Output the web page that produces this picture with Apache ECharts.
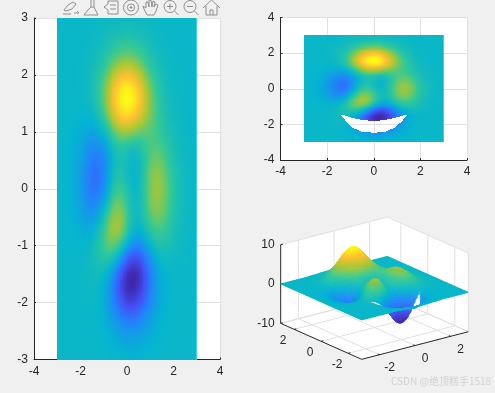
<!DOCTYPE html>
<html>
<head>
<meta charset="utf-8">
<style>
  html, body { margin: 0; padding: 0; background: #f0f0f0; }
  #chart { width: 495px; height: 393px; }
</style>
<script src="https://cdn.jsdelivr.net/npm/echarts@6/dist/echarts.min.js"></script>
</head>
<body>
<div id="chart"></div>
<script>
// grid positions of the surface samples
const xValues = [-3,-2.75,-2.5,-2.25,-2,-1.75,-1.5,-1.25,-1,-0.75,-0.5,-0.25,0,0.25,0.5,0.75,1,1.25,1.5,1.75,2,2.25,2.5,2.75,3];
const yValues = [3,2.75,2.5,2.25,2,1.75,1.5,1.25,1,0.75,0.5,0.25,0,-0.25,-0.5,-0.75,-1,-1.25,-1.5,-1.75,-2,-2.25,-2.5,-2.75,-3];
// surface height, one row per y value
const zRows = [
  [0,0,0,0,0,0,0,.1,.1,.2,.2,.3,.3,.3,.2,.2,.1,.1,0,0,0,0,0,0,0],
  [0,0,0,0,0,0,.1,.2,.3,.5,.6,.7,.8,.7,.6,.5,.3,.2,.1,0,0,0,0,0,0],
  [0,0,0,0,0,.1,.2,.4,.7,1.1,1.5,1.8,1.9,1.8,1.5,1.1,.7,.4,.2,.1,0,0,0,0,0],
  [0,0,0,0,.1,.2,.4,.7,1.3,2.1,2.8,3.4,3.6,3.4,2.8,2.1,1.3,.8,.4,.2,.1,0,0,0,0],
  [0,0,0,0,.1,.2,.6,1.2,2.1,3.3,4.6,5.5,5.9,5.5,4.6,3.4,2.2,1.3,.7,.3,.1,.1,0,0,0],
  [0,0,0,0,.1,.2,.7,1.4,2.7,4.3,6,7.2,7.7,7.2,6,4.5,3,1.8,1,.5,.2,.1,0,0,0],
  [0,0,0,0,0,.1,.5,1.3,2.6,4.4,6.2,7.5,8,7.5,6.3,4.7,3.3,2.1,1.2,.6,.3,.1,0,0,0],
  [0,0,-.1,-.1,-.2,-.2,-.1,.5,1.7,3.3,4.9,6.1,6.4,5.9,5,4,3,2.1,1.4,.8,.4,.2,.1,0,0],
  [0,0,-.1,-.3,-.5,-.7,-.9,-.6,.2,1.5,2.8,3.6,3.7,3.4,2.9,2.7,2.4,2.1,1.6,1,.6,.3,.1,0,0],
  [0,-.1,-.2,-.4,-.8,-1.4,-1.8,-1.8,-1.2,0,1,1.6,1.4,1.1,1.2,1.7,2.2,2.3,2,1.4,.8,.4,.2,.1,0],
  [0,-.1,-.2,-.6,-1.1,-1.8,-2.5,-2.6,-2,-.8,.4,.8,.5,.1,.4,1.3,2.4,2.8,2.6,1.8,1.1,.5,.2,.1,0],
  [0,-.1,-.3,-.7,-1.3,-2.2,-2.9,-3,-2.1,-.6,.7,1,.5,0,.3,1.5,2.8,3.4,3.1,2.2,1.3,.7,.3,.1,0],
  [0,-.1,-.3,-.7,-1.3,-2.1,-2.8,-2.7,-1.7,.1,1.5,1.8,1,.2,.4,1.6,2.9,3.6,3.3,2.4,1.4,.7,.3,.1,0],
  [0,-.1,-.3,-.6,-1.1,-1.8,-2.2,-1.8,-.6,1.2,2.6,2.6,1.6,.5,.5,1.5,2.8,3.4,3.1,2.3,1.3,.7,.3,.1,0],
  [0,-.1,-.2,-.4,-.8,-1.2,-1.2,-.6,.8,2.5,3.5,3.3,2,.7,.4,1.1,2.2,2.8,2.6,1.9,1.1,.6,.2,.1,0],
  [0,-.1,-.1,-.2,-.4,-.5,-.3,.5,1.8,3.1,3.6,3,1.4,0,-.4,.2,1.2,1.8,1.8,1.4,.8,.4,.2,.1,0],
  [0,0,-.1,-.1,-.1,0,.3,1,1.9,2.5,2.2,1,-.7,-2,-2.2,-1.4,-.3,.6,.9,.8,.5,.3,.1,0,0],
  [0,0,0,0,0,.2,.5,.8,1.1,.9,-.1,-1.8,-3.6,-4.6,-4.4,-3.2,-1.7,-.5,.1,.3,.2,.1,.1,0,0],
  [0,0,0,0,.1,.2,.3,.4,.1,-.7,-2.2,-4.1,-5.7,-6.3,-5.8,-4.3,-2.6,-1.3,-.4,-.1,0,0,0,0,0],
  [0,0,0,0,.1,.1,.2,0,-.5,-1.5,-3,-4.7,-6,-6.3,-5.6,-4.3,-2.7,-1.4,-.6,-.2,0,0,0,0,0],
  [0,0,0,0,0,.1,.1,-.1,-.6,-1.4,-2.6,-3.9,-4.8,-4.9,-4.3,-3.3,-2.1,-1.2,-.5,-.2,-.1,0,0,0,0],
  [0,0,0,0,0,0,0,-.1,-.4,-1,-1.7,-2.5,-3,-3.1,-2.7,-2,-1.3,-.7,-.3,-.1,-.1,0,0,0,0],
  [0,0,0,0,0,0,0,-.1,-.2,-.5,-.9,-1.3,-1.6,-1.6,-1.4,-1.1,-.7,-.4,-.2,-.1,0,0,0,0,0],
  [0,0,0,0,0,0,0,0,-.1,-.2,-.4,-.5,-.7,-.7,-.6,-.4,-.3,-.2,-.1,0,0,0,0,0,0],
  [0,0,0,0,0,0,0,0,0,-.1,-.1,-.2,-.2,-.3,-.2,-.2,-.1,-.1,0,0,0,0,0,0,0]
];
// outline of the cut-out crescent (NaN area of the surface)
const holeX = [-1.45,-1.2,-0.95,-0.5,0,0.5,0.95,1.2,1.45];
const holeTop = [-1.46,-1.55,-1.63,-1.75,-1.8,-1.75,-1.63,-1.55,-1.46];
const holeBottom = [-1.46,-1.82,-2.15,-2.4,-2.5,-2.4,-2.15,-1.82,-1.46];

const xTicks3d = [-2,0,2];
const yTicks3d = [-2,0,2];
const zTicks3d = [-10,0,10];

const zMin = -6.55, zMax = 8.1;
const parula = [
  [62,38,168],[68,78,246],[32,132,250],[4,180,208],
  [50,200,150],[171,199,50],[254,192,50],[250,252,18]
];
const textColor = "#262626";
const gridColor = "#e0e0e0";
const edgeColor = "#35d3e6";
const labelFont = '12px "Liberation Sans", Arial, sans-serif';

function colorOf(z) {
  const t = Math.max(0, Math.min(1, (z - zMin) / (zMax - zMin))) * (parula.length - 1);
  const k = Math.min(parula.length - 2, Math.floor(t));
  const f = t - k;
  const a = parula[k], b = parula[k + 1];
  return "rgb(" + Math.round(a[0] + (b[0] - a[0]) * f) + "," +
    Math.round(a[1] + (b[1] - a[1]) * f) + "," +
    Math.round(a[2] + (b[2] - a[2]) * f) + ")";
}

function inHole(x, y) {
  if (x <= holeX[0] || x >= holeX[holeX.length - 1]) return false;
  let k = 0;
  while (holeX[k + 1] < x) k++;
  const f = (x - holeX[k]) / (holeX[k + 1] - holeX[k]);
  const top = holeTop[k] + (holeTop[k + 1] - holeTop[k]) * f;
  const bottom = holeBottom[k] + (holeBottom[k + 1] - holeBottom[k]) * f;
  return y < top && y > bottom;
}

// smooth shading between samples, same idea as shading interp
function blend(p0, p1, p2, p3, f) {
  return p1 + 0.5 * f * (p2 - p0 + f * (2 * p0 - 5 * p1 + 4 * p2 - p3 + f * (3 * (p1 - p2) + p3 - p0)));
}
function sample(i, j) {
  const n = xValues.length - 1;
  return zRows[Math.max(0, Math.min(n, j))][Math.max(0, Math.min(n, i))];
}
function shadeZ(i, j, fx, fy) {
  const col = [];
  for (let r = -1; r <= 2; r++) {
    col.push(blend(sample(i - 1, j + r), sample(i, j + r), sample(i + 1, j + r), sample(i + 2, j + r), fx));
  }
  return blend(col[0], col[1], col[2], col[3], fy);
}

const cells = [];
for (let j = 0; j < yValues.length - 1; j++) {
  for (let i = 0; i < xValues.length - 1; i++) {
    cells.push([xValues[i], yValues[j], i, j]);
  }
}

function flatSurface(subX, subY, cutHole) {
  return function (params, api) {
    const i = api.value(2), j = api.value(3);
    const x0 = xValues[i], x1 = xValues[i + 1], y0 = yValues[j], y1 = yValues[j + 1];
    const children = [];
    for (let a = 0; a < subX; a++) {
      for (let b = 0; b < subY; b++) {
        const xa = x0 + (x1 - x0) * a / subX, xb = x0 + (x1 - x0) * (a + 1) / subX;
        const ya = y0 + (y1 - y0) * b / subY, yb = y0 + (y1 - y0) * (b + 1) / subY;
        if (cutHole && inHole((xa + xb) / 2, (ya + yb) / 2)) continue;
        const p = api.coord([xa, ya]), q = api.coord([xb, yb]);
        const left = Math.round(p[0]), topPx = Math.round(p[1]);
        const w = Math.round(q[0]) - left, h = Math.round(q[1]) - topPx;
        if (w <= 0 || h <= 0) continue;
        children.push({
          type: "rect",
          shape: { x: left, y: topPx, width: w, height: h },
          style: { fill: colorOf(shadeZ(i, j, (a + 0.5) / subX, (b + 0.5) / subY)) },
          silent: true
        });
      }
    }
    // the image edge at x max shows a lighter pixel column
    if (i === xValues.length - 2) {
      const p = api.coord([x1, y0]), q = api.coord([x1, y1]);
      children.push({
        type: "rect",
        shape: { x: Math.round(p[0]) - 1, y: Math.round(p[1]), width: 1, height: Math.round(q[1]) - Math.round(p[1]) },
        style: { fill: edgeColor },
        silent: true
      });
    }
    return { type: "group", children: children };
  };
}

// default matlab view: az -37.5, el 30
function project(x, y, z) {
  return [114.5 + (53.3 * x - 40.5 * y) / 3, 78.2 + (-13.8 * x - 18 * y - 11.8 * z) / 3];
}

function boxElements(params, api) {
  const pt = (x, y, z) => api.coord(project(x, y, z));
  const line = (a, b, color) => ({
    type: "line",
    shape: { x1: a[0], y1: a[1], x2: b[0], y2: b[1] },
    style: { stroke: color, lineWidth: 1 },
    silent: true
  });
  const label = (text, p, dx, dy, align) => ({
    type: "text",
    x: p[0] + dx, y: p[1] + dy,
    style: { text: text, fill: textColor, font: labelFont, align: align || "center", verticalAlign: "middle" },
    silent: true
  });
  const kids = [{
    type: "polygon",
    shape: { points: [pt(-3,3,10), pt(3,3,10), pt(3,-3,10), pt(3,-3,-10), pt(-3,-3,-10), pt(-3,3,-10)] },
    style: { fill: "#fff" },
    silent: true
  }];
  xTicks3d.forEach(function (x) {
    kids.push(line(pt(x,-3,-10), pt(x,3,-10), gridColor), line(pt(x,3,-10), pt(x,3,10), gridColor));
  });
  yTicks3d.forEach(function (y) {
    kids.push(line(pt(-3,y,-10), pt(3,y,-10), gridColor), line(pt(3,y,-10), pt(3,y,10), gridColor));
  });
  zTicks3d.forEach(function (z) {
    kids.push(line(pt(-3,3,z), pt(3,3,z), gridColor), line(pt(3,3,z), pt(3,-3,z), gridColor));
  });
  kids.push(line(pt(3,3,-10), pt(-3,3,-10), gridColor), line(pt(3,3,-10), pt(3,-3,-10), gridColor));
  kids.push(line(pt(3,-3,-10), pt(3,-3,10), gridColor), line(pt(-3,3,10), pt(-3,3,-10), textColor));
  kids.push(line(pt(-3,3,-10), pt(-3,-3,-10), textColor), line(pt(-3,-3,-10), pt(3,-3,-10), textColor));
  xTicks3d.forEach(function (x) {
    kids.push(line(pt(x,-3,-10), pt(x,-2.88,-10), textColor), label(String(x), pt(x,-3,-10), 10, 13));
  });
  yTicks3d.forEach(function (y) {
    kids.push(line(pt(-3,y,-10), pt(-2.88,y,-10), textColor), label(String(y), pt(-3,y,-10), -11, 11));
  });
  zTicks3d.forEach(function (z) {
    kids.push(line(pt(-3,3,z), pt(-2.88,3,z), textColor), label(String(z), pt(-3,3,z), -6, 0, "right"));
  });
  return { type: "group", children: kids };
}

function surface3d(params, api) {
  const i = api.value(2), j = api.value(3);
  const x0 = xValues[i], x1 = xValues[i + 1], y0 = yValues[j], y1 = yValues[j + 1];
  const sub = 5;
  const children = [];
  // far corner of a cell first, so nearer pieces paint over
  for (let a = sub - 1; a >= 0; a--) {
    for (let b = 0; b < sub; b++) {
      const xa = x0 + (x1 - x0) * a / sub, xb = x0 + (x1 - x0) * (a + 1) / sub;
      const ya = y0 + (y1 - y0) * b / sub, yb = y0 + (y1 - y0) * (b + 1) / sub;
      if (inHole((xa + xb) / 2, (ya + yb) / 2)) continue;
      const corners = [
        [xa, ya, shadeZ(i, j, a / sub, b / sub)],
        [xb, ya, shadeZ(i, j, (a + 1) / sub, b / sub)],
        [xb, yb, shadeZ(i, j, (a + 1) / sub, (b + 1) / sub)],
        [xa, yb, shadeZ(i, j, a / sub, (b + 1) / sub)]
      ];
      const color = colorOf(shadeZ(i, j, (a + 0.5) / sub, (b + 0.5) / sub));
      children.push({
        type: "polygon",
        shape: { points: corners.map((c) => api.coord(project(c[0], c[1], c[2]))) },
        style: { fill: color, stroke: color, lineWidth: 0.5 },
        silent: true
      });
    }
  }
  return { type: "group", children: children };
}

const cells3d = cells.slice().sort((m, n) => (13.8 * n[0] + 18 * n[1]) - (13.8 * m[0] + 18 * m[1]));

function flatAxis(grid, min, max, interval) {
  return {
    type: "value",
    gridIndex: grid,
    min: min,
    max: max,
    interval: interval,
    axisLine: { show: true, onZero: false, lineStyle: { color: textColor, width: 1 } },
    axisTick: { show: true, inside: true, length: 2, lineStyle: { color: textColor } },
    axisLabel: { color: textColor, fontFamily: "Liberation Sans", fontSize: 12, margin: 6,
      showMinLabel: true, showMaxLabel: true, hideOverlap: false,
      formatter: (v) => String(v) },
    splitLine: { show: true, lineStyle: { color: gridColor, width: 1 } }
  };
}

const hidden = { type: "value", show: false, gridIndex: 2, splitLine: { show: false } };

// toolbar glyphs, only decoration above the first axes
const iconStroke = { stroke: "#8e8e8e", fill: "none", lineWidth: 1 };
function poly(points) {
  return { type: "polyline", shape: { points: points }, style: iconStroke, silent: true };
}
function ring(cx, cy, r) {
  return { type: "circle", shape: { cx: cx, cy: cy, r: r }, style: iconStroke, silent: true };
}
const toolbar = [
  poly([[64,10],[68,5],[73,2],[76,4],[72,9],[66,11],[64,10]]), poly([[63,14],[71,14]]), poly([[74,13],[79,13],[77,11]]),
  poly([[94,0],[94,7]]), poly([[91,0],[91,7]]), poly([[91,7],[94,7],[98,15],[84,15],[87,11],[91,7]]),
  poly([[108,1],[118,1],[118,14],[108,14],[108,10],[104,7],[108,4],[108,1]]), poly([[110,5],[116,5]]), poly([[110,9],[116,9]]),
  ring(131,7.5,7.5), ring(131,7.5,3.6), poly([[129.5,7.5],[132.5,7.5]]), poly([[131,6],[131,9]]),
  poly([[147,15],[144,9],[143,6],[146,8],[146,2],[148,2],[149,7],[149,0],[151,0],[152,7],[153,1],[155,2],[154,7],[156,4],[158,5],[156,11],[154,15],[147,15]]),
  ring(170,6.5,6), poly([[174.5,11],[178.5,15]]), poly([[167,6.5],[173,6.5]]), poly([[170,3.5],[170,9.5]]),
  ring(190,6.5,6), poly([[194.5,11],[198.5,15]]), poly([[187,6.5],[193,6.5]]),
  poly([[203,8],[211.5,0],[220,8]]), poly([[206,6],[206,15],[217,15],[217,6]]), poly([[210,15],[210,10],[213,10],[213,15]])
];

const chart = echarts.init(document.getElementById("chart"), null, { renderer: "canvas" });
chart.setOption({
  animation: false,
  backgroundColor: "#f0f0f0",
  grid: [
    { left: 34, top: 18, width: 186, height: 341.5, show: true, backgroundColor: "#fff", borderWidth: 0 },
    { left: 280.5, top: 17.5, width: 186.5, height: 142.5, show: true, backgroundColor: "#fff", borderWidth: 0 },
    { left: 260, top: 210, width: 235, height: 183, show: false }
  ],
  xAxis: [
    flatAxis(0, -4, 4, 2),
    flatAxis(1, -4, 4, 2),
    Object.assign({ min: 0, max: 235 }, hidden)
  ],
  yAxis: [
    flatAxis(0, -3, 3, 1),
    flatAxis(1, -4, 4, 2),
    Object.assign({ min: 0, max: 183, inverse: true }, hidden)
  ],
  graphic: toolbar.concat([{
    type: "text",
    x: 391,
    y: 376,
    style: { text: "CSDN @绝顶糕手1518", fill: "#d2d2d2", font: '10px "Noto Sans CJK SC", sans-serif' },
    silent: true
  }]),
  series: [
    { type: "custom", xAxisIndex: 0, yAxisIndex: 0, data: cells, renderItem: flatSurface(4, 7, false), encode: { x: 0, y: 1 }, silent: true },
    { type: "custom", xAxisIndex: 1, yAxisIndex: 1, data: cells, renderItem: flatSurface(6, 5, true), encode: { x: 0, y: 1 }, silent: true },
    { type: "custom", xAxisIndex: 2, yAxisIndex: 2, data: [[0, 0]], renderItem: boxElements, clip: false, z: 1, silent: true },
    { type: "custom", xAxisIndex: 2, yAxisIndex: 2, data: cells3d, renderItem: surface3d, clip: false, z: 2, silent: true }
  ]
});
</script>
</body>
</html>
